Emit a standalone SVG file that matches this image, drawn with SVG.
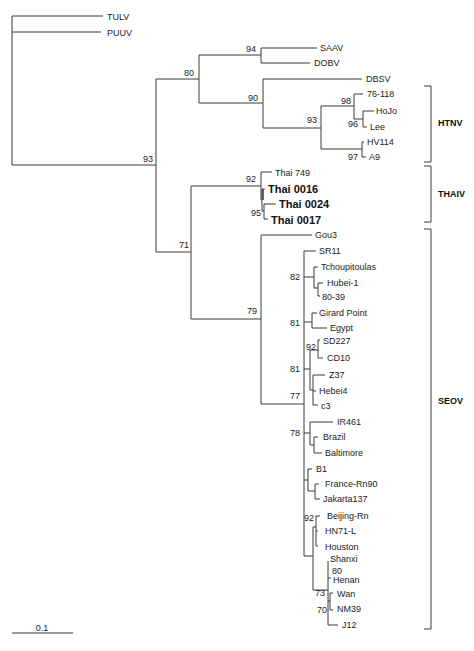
<svg xmlns="http://www.w3.org/2000/svg" width="474" height="651" viewBox="0 0 474 651">
<style>
  .br { fill: none; stroke: #3a3a3a; stroke-width: 1; }
  .lf { font-family: "Liberation Sans", Arial, sans-serif; font-size: 9px; fill: #222; }
  .bs { font-family: "Liberation Sans", Arial, sans-serif; font-size: 9px; fill: #222; text-anchor: end; }
  .th { font-family: "Liberation Sans", Arial, sans-serif; font-size: 11px; font-weight: bold; fill: #111; }
  .cl { font-family: "Liberation Sans", Arial, sans-serif; font-size: 9px; font-weight: bold; fill: #111; }
</style>
<rect width="474" height="651" fill="#fff"/>
<g id="connectors" class="br">
  <!-- root -->
  <path d="M12,16 V165 M12,16 H103 M12,32 H101 M12,165 H156"/>
  <!-- node 93 root -->
  <path d="M156,79 V252 M156,79 H199 M156,252 H191"/>
  <!-- node 80 -->
  <path d="M199,55 V103 M199,55 H261 M199,103 H263"/>
  <path d="M261,48 V63 M261,48 H317 M261,63 H310"/>
  <!-- HTNV -->
  <path d="M263,79 V128 M263,79 H362 M263,128 H321"/>
  <path d="M321,106 V149 M321,106 H354 M321,149 H362"/>
  <path d="M354,94 V119 M354,94 H363 M354,119 H363"/>
  <path d="M363,111 V127 M363,111 H374 M363,127 H367"/>
  <path d="M362,142 V157 M362,142 H364 M362,157 H366"/>
  <!-- node 71 -->
  <path d="M191,186 V319 M191,186 H261 M191,319 H261"/>
  <!-- THAIV -->
  <path d="M261,172 V200 M261,172 H272 M261,200 H262"/>
  <path d="M262,189 V211 M262,189 H265 M262,211 H264"/>
  <path d="M263,189 V200" stroke-width="1.5"/>
  <path d="M264,204 V219 M264,204 H276 M264,219 H268"/>
  <!-- SEOV node 79 -->
  <path d="M261,235 V404 M261,235 H312 M261,404 H304"/>
  <!-- node 77 backbone -->
  <path d="M304,251 V556 M304,251 H316"/>
  <path d="M304,277 H314 M314,267 V288 M314,267 H318 M314,288 H318"/>
  <path d="M318,283 V296 M318,283 H323 M318,296 H320"/>
  <path d="M304,322 H312 M312,313 V328 M312,313 H317 M312,328 H327"/>
  <path d="M304,369 H310 M310,350 V390 M310,350 H318"/>
  <path d="M318,340 V358 M318,340 H320 M318,358 H323"/>
  <path d="M310,390 H313 M313,375 V405 M313,375 H325 M313,391 H316 M313,405 H318"/>
  <path d="M304,433 H310 M310,422 V445 M310,422 H333 M310,445 H314"/>
  <path d="M314,437 V453 M314,437 H318 M314,453 H322"/>
  <path d="M304,480 H308 M308,469 V491 M308,469 H312 M308,491 H315"/>
  <path d="M315,484 V499 M315,484 H319 M315,499 H320"/>
  <path d="M304,556 H313 M313,527 V590 M313,527 H316"/>
  <path d="M316,516 V546 M316,516 H320 M316,531 H318 M316,546 H318"/>
  <path d="M313,590 H328 M328,561 V625 M328,578 H331 M328,625 H338"/>
  <path d="M328,601 H330 M330,593 V610 M330,593 H333 M330,610 H333"/>
  <!-- clade brackets -->
  <path d="M424,86 H431 V162 H424"/>
  <path d="M424,166 H431 V222 H424"/>
  <path d="M424,229 H431 V629 H424"/>
  <!-- scale bar -->
  <path d="M12,633 H73"/>
</g>
<g id="bootstrap">
  <text class="bs" x="153" y="162">93</text>
  <text class="bs" x="194" y="76">80</text>
  <text class="bs" x="189" y="248">71</text>
  <text class="bs" x="256" y="52">94</text>
  <text class="bs" x="258" y="101">90</text>
  <text class="bs" x="317" y="123">93</text>
  <text class="bs" x="351" y="104">98</text>
  <text class="bs" x="358" y="127">96</text>
  <text class="bs" x="358" y="160">97</text>
  <text class="bs" x="256" y="182">92</text>
  <text class="bs" x="261" y="216">95</text>
  <text class="bs" x="257" y="314">79</text>
  <text class="bs" x="300" y="399">77</text>
  <text class="bs" x="300" y="280">82</text>
  <text class="bs" x="300" y="326">81</text>
  <text class="bs" x="316" y="350">92</text>
  <text class="bs" x="300" y="372">81</text>
  <text class="bs" x="300" y="436">78</text>
  <text class="bs" x="314" y="521">92</text>
  <text class="lf" x="332" y="574">80</text>
  <text class="bs" x="325" y="596">73</text>
  <text class="bs" x="327" y="613">70</text>
</g>
<g id="TULV"><text class="lf" x="107" y="20">TULV</text></g>
<g id="PUUV"><text class="lf" x="107" y="36">PUUV</text></g>
<g id="SAAV"><text class="lf" x="320" y="51">SAAV</text></g>
<g id="DOBV"><text class="lf" x="314" y="66">DOBV</text></g>
<g id="DBSV"><text class="lf" x="366" y="82">DBSV</text></g>
<g id="n76-118"><text class="lf" x="367" y="97">76-118</text></g>
<g id="HoJo"><text class="lf" x="376" y="114">HoJo</text></g>
<g id="Lee"><text class="lf" x="370" y="130">Lee</text></g>
<g id="HV114"><text class="lf" x="367" y="145">HV114</text></g>
<g id="A9"><text class="lf" x="369" y="160">A9</text></g>
<g id="Thai749"><text class="lf" x="275" y="176">Thai 749</text></g>
<g id="Thai0016"><text class="th" x="268" y="193">Thai 0016</text></g>
<g id="Thai0024"><text class="th" x="279" y="208">Thai 0024</text></g>
<g id="Thai0017"><text class="th" x="271" y="224">Thai 0017</text></g>
<g id="Gou3"><text class="lf" x="315" y="238">Gou3</text></g>
<g id="SR11"><text class="lf" x="319" y="254">SR11</text></g>
<g id="Tchoupitoulas"><text class="lf" x="321" y="270">Tchoupitoulas</text></g>
<g id="Hubei-1"><text class="lf" x="327" y="286">Hubei-1</text></g>
<g id="n80-39"><text class="lf" x="322" y="300">80-39</text></g>
<g id="GirardPoint"><text class="lf" x="319" y="316">Girard Point</text></g>
<g id="Egypt"><text class="lf" x="330" y="331">Egypt</text></g>
<g id="SD227"><text class="lf" x="323" y="344">SD227</text></g>
<g id="CD10"><text class="lf" x="327" y="361">CD10</text></g>
<g id="Z37"><text class="lf" x="329" y="378">Z37</text></g>
<g id="Hebei4"><text class="lf" x="319" y="394">Hebei4</text></g>
<g id="c3"><text class="lf" x="321" y="409">c3</text></g>
<g id="IR461"><text class="lf" x="337" y="425">IR461</text></g>
<g id="Brazil"><text class="lf" x="323" y="440">Brazil</text></g>
<g id="Baltimore"><text class="lf" x="325" y="456">Baltimore</text></g>
<g id="B1"><text class="lf" x="316" y="472">B1</text></g>
<g id="France-Rn90"><text class="lf" x="325" y="487">France-Rn90</text></g>
<g id="Jakarta137"><text class="lf" x="323" y="502">Jakarta137</text></g>
<g id="Beijing-Rn"><text class="lf" x="327" y="519">Beijing-Rn</text></g>
<g id="HN71-L"><text class="lf" x="325" y="534">HN71-L</text></g>
<g id="Houston"><text class="lf" x="325" y="550">Houston</text></g>
<g id="Shanxi"><text class="lf" x="330" y="562">Shanxi</text></g>
<g id="Henan"><text class="lf" x="333" y="583">Henan</text></g>
<g id="Wan"><text class="lf" x="337" y="597">Wan</text></g>
<g id="NM39"><text class="lf" x="337" y="612">NM39</text></g>
<g id="J12"><text class="lf" x="342" y="628">J12</text></g>
<g id="HTNV"><text class="cl" x="438" y="126">HTNV</text></g>
<g id="THAIV"><text class="cl" x="438" y="197">THAIV</text></g>
<g id="SEOV"><text class="cl" x="438" y="404">SEOV</text></g>
<g id="scale"><text class="lf" x="42" y="631" text-anchor="middle">0.1</text></g>
</svg>
